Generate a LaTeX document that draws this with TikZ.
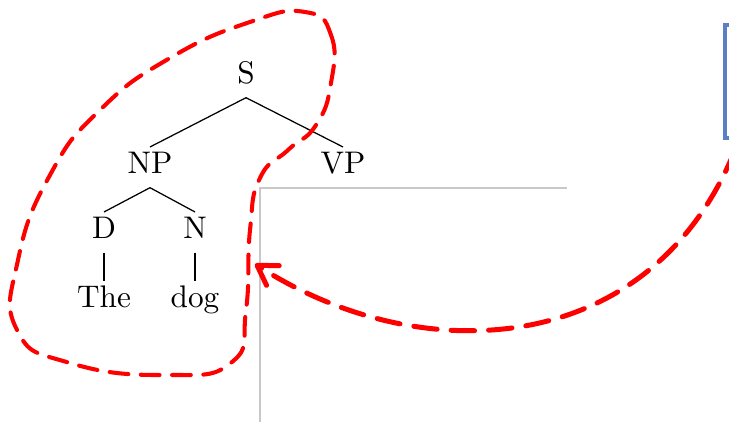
\documentclass[tikz,border=0pt]{standalone}
\usepackage{amsmath,amssymb}
\usepackage{tikz}
\usetikzlibrary{arrows.meta,calc}

\definecolor{boxblue}{RGB}{92,126,196}
\definecolor{framegray}{RGB}{200,200,200}

\begin{document}
\begin{tikzpicture}[x=0.32pt,y=-0.32pt,
 tag/.style={inner xsep=1pt,inner ysep=1.3pt,text depth=3.2pt,anchor=base},
 blob/.style={red,line width=1.3pt,dash pattern=on 6pt off 4pt,line cap=round},
 pointer/.style={red,line width=1.6pt,dash pattern=on 7.5pt off 4.5pt,line cap=round,
  -{Straight Barb[length=6pt,width=7.5pt,round]}}]
 \clip (0,0) rectangle (729,422);

 % frame corner and box
 \draw[framegray,line width=0.4pt] (260,422)--(260,188)--(567,188);
 \draw[boxblue,line width=1.3pt] (725,25) rectangle (780,138);

 % tree
 \node[tag] (S) at (246,83) {S};
 \node[tag] (NP) at (150,173) {NP};
 \node[tag] (VP) at (343,173) {VP};
 \node[tag] (D) at (104,238) {D};
 \node[tag] (N) at (195,238) {N};
 \node[tag] (the) at (104,307) {The};
 \node[tag] (dog) at (195,307) {dog};
 \draw (S.south)--(NP.north);
 \draw (S.south)--(VP.north);
 \draw (NP.south)--(D.north);
 \draw (NP.south)--(N.north);
 \draw (D.south)--(the.north);
 \draw (N.south)--(dog.north);

 % dashed outline round the subtree
 \draw[blob] plot[smooth cycle,tension=0.85] coordinates {
  (305,12) (331,35) (331,83) (316,125) (288,150)
  (260,178) (250,230) (246,310) (232,362)
  (167,375) (70,363) (17,330) (18,260)
  (50,175) (100,110) (170,58) (250,22)};

 % arrow into the outline
 \coordinate (src) at (735,150);
 \coordinate (tip) at (255,264);
 \draw[pointer] (src) .. controls (650,360) and (420,370) .. (tip);
\end{tikzpicture}
\end{document}
